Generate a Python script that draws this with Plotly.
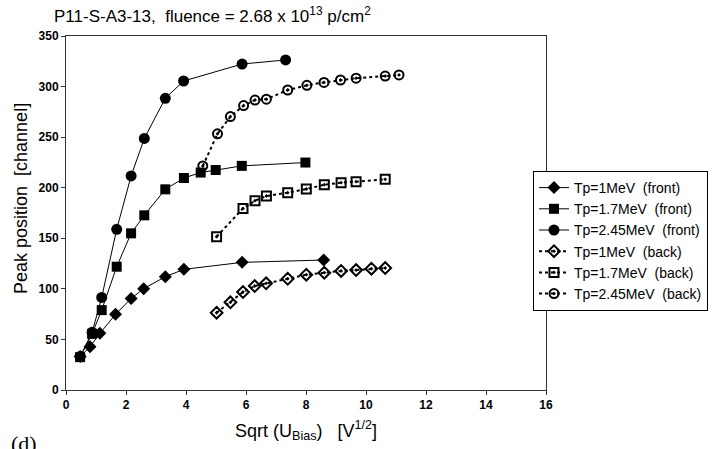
import plotly.graph_objects as go

# ---- data ----
x_f1 = [0.47, 0.80, 1.13, 1.65, 2.17, 2.59, 3.31, 3.93, 5.87, 8.59]
y_f1 = [33, 42.8, 56, 74.8, 90.5, 100.2, 112, 119.3, 126.2, 128.5]

x_f17 = [0.47, 0.87, 1.19, 1.69, 2.17, 2.61, 3.31, 3.93, 4.49, 4.99, 5.86, 7.98]
y_f17 = [32.5, 55.5, 79, 121.9, 154.9, 172.7, 198.4, 209.6, 215, 217.5, 221.6, 224.9]

x_f245 = [0.47, 0.87, 1.19, 1.69, 2.17, 2.61, 3.31, 3.92, 5.87, 7.32]
y_f245 = [33, 57, 91.5, 158.9, 211.6, 248.7, 288.4, 305.5, 322.3, 326.3]

x_b1 = [5.02, 5.48, 5.90, 6.29, 6.67, 7.39, 8.01, 8.61, 9.17, 9.67, 10.18, 10.64]
y_b1 = [76.4, 86.7, 96.9, 102.8, 105.5, 110, 114, 116, 117.7, 118.6, 119.9, 120.6]

x_b17 = [5.02, 5.90, 6.30, 6.68, 7.39, 8.01, 8.61, 9.17, 9.67, 10.64]
y_b17 = [151.6, 179.5, 187.2, 191.8, 195.1, 198.7, 203, 205, 206, 208.3]

x_b245 = [4.56, 5.05, 5.48, 5.92, 6.30, 6.68, 7.39, 8.03, 8.60, 9.15, 9.67, 10.64, 11.10]
y_b245 = [221.5, 253.3, 270.3, 281.2, 286.7, 287.5, 296.6, 301.2, 304.1, 306.5, 308.3, 310.4, 311.5]

names = ["Tp=1MeV  (front)", "Tp=1.7MeV  (front)", "Tp=2.45MeV  (front)",
         "Tp=1MeV  (back)", "Tp=1.7MeV  (back)", "Tp=2.45MeV  (back)"]

x_ticks = [0, 2, 4, 6, 8, 10, 12, 14, 16]
y_ticks = [0, 50, 100, 150, 200, 250, 300, 350]

# ---- figure ----
W, H = 720, 449
PX0, PX1, PY0, PY1 = 66, 546, 36, 390   # plot area in pixels
L, R, T, B = PX0, W - PX1, PY0, H - PY1
PW, PH = PX1 - PX0, PY1 - PY0


def px(x):
    return (x - PX0) / PW


def py(y):
    return (PY1 - y) / PH


fig = go.Figure()

series = [
    (x_f1, y_f1, names[0], "diamond", 10, "solid", 1),
    (x_f17, y_f17, names[1], "square", 10, "solid", 1),
    (x_f245, y_f245, names[2], "circle", 11, "solid", 1),
    (x_b1, y_b1, names[3], "diamond-open-dot", 9, "dot", 2),
    (x_b17, y_b17, names[4], "square-open-dot", 9, "dot", 2),
    (x_b245, y_b245, names[5], "circle-open-dot", 9, "dot", 2),
]
for xs, ys, nm, sym, sz, dash, lw in series:
    open_ = "open" in sym
    fig.add_trace(go.Scatter(
        x=xs, y=ys, name=nm, mode="lines+markers",
        line=dict(color="black", width=lw, dash=dash),
        marker=dict(symbol=sym, size=sz, color="black",
                    line=dict(color="black", width=2 if open_ else 0)),
    ))

FONT = "Liberation Sans, Arial"
axis_common = dict(
    showline=True, linecolor="#333333", linewidth=1, mirror=True,
    ticks="outside", ticklen=4, tickcolor="#333333",
    showgrid=False, zeroline=False,
    tickfont=dict(family=FONT, size=12, color="black", weight="bold"),
)

fig.update_layout(
    width=W, height=H,
    margin=dict(l=L, r=R, t=T, b=B, autoexpand=False),
    paper_bgcolor="white", plot_bgcolor="white",
    showlegend=True,
    legend=dict(
        x=px(533), y=py(171),
        xanchor="left", yanchor="top",
        bgcolor="white", bordercolor="black", borderwidth=1,
        font=dict(family=FONT, size=14, color="black"),
        itemwidth=30, tracegroupgap=0,
    ),
    xaxis=dict(range=[0, 16], tickvals=x_ticks, ticktext=[str(v) for v in x_ticks],
               **axis_common),
    yaxis=dict(range=[0, 350], tickvals=y_ticks, ticktext=[str(v) for v in y_ticks],
               **axis_common),
)

# title
fig.add_annotation(
    text="P11-S-A3-13,  fluence = 2.68 x 10<sup>13</sup> p/cm<sup>2</sup>",
    xref="paper", yref="paper", x=px(52), y=py(2),
    xanchor="left", yanchor="top", showarrow=False,
    font=dict(family=FONT, size=17, color="black"),
)
# x axis title
fig.add_annotation(
    text="Sqrt (U<sub>Bias</sub>)   [V<sup>1/2</sup>]",
    xref="paper", yref="paper", x=px(306), y=py(430),
    xanchor="center", yanchor="middle", showarrow=False,
    font=dict(family=FONT, size=18, color="black"),
)
# y axis title
fig.add_annotation(
    text="Peak position  [channel]",
    xref="paper", yref="paper", x=px(21), y=py(199),
    xanchor="center", yanchor="middle", showarrow=False, textangle=-90,
    font=dict(family=FONT, size=18, color="black"),
)
# panel label
fig.add_annotation(
    text="(d)",
    xref="paper", yref="paper", x=px(9), y=py(429),
    xanchor="left", yanchor="top", showarrow=False,
    font=dict(family="Liberation Serif, Times New Roman", size=22, color="black"),
)

fig.write_html("out.html")
